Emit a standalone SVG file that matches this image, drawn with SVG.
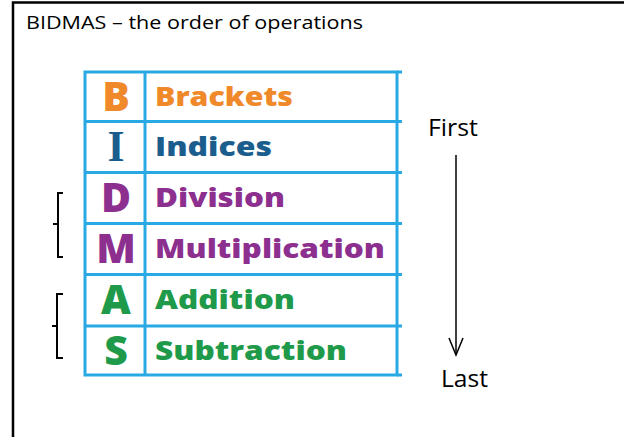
<svg xmlns="http://www.w3.org/2000/svg" width="624" height="437" viewBox="0 0 624 437">
<style>
.title{font-family:"Open Sans","Liberation Sans",sans-serif;font-size:19px;fill:#000}
.lbl{font-family:"Open Sans","Liberation Sans",sans-serif;font-size:23px;fill:#000}
.let{font-family:"Open Sans","Noto Sans",sans-serif;font-weight:800;font-size:41px;text-anchor:middle}
.word{font-family:"Open Sans","Noto Sans",sans-serif;font-weight:800;font-size:27px}
.grid{stroke:#29a9e4;stroke-width:3;fill:none}
.br{stroke:#000;stroke-width:2;fill:none}
.o{fill:#f0892a}.b{fill:#1b5e8e}.p{fill:#8c2f8e}.g{fill:#1f9a4a}
</style>
<rect width="624" height="437" fill="#fff"/>
<path d="M13,437 V2.5 H624" stroke="#000" stroke-width="2.5" fill="none"/>
<text class="title" x="26" y="29" textLength="337" lengthAdjust="spacingAndGlyphs">BIDMAS – the order of operations</text>
<g id="table">
<rect class="grid" x="85" y="72" width="312" height="303"/>
<line class="grid" x1="145" y1="72" x2="145" y2="375"/>
<path class="grid" d="M85,121.5 H402 M85,172.5 H402 M85,223.5 H402 M85,274.5 H402 M85,326 H402 M397,72 H402 M397,375 H402"/>
</g>
<g id="row-b"><text class="let o" x="116" y="111">B</text><text class="word o" x="155" y="106" textLength="138" lengthAdjust="spacingAndGlyphs">Brackets</text></g>
<g id="row-i"><text class="let b" x="116" y="161" style="font-family:'Liberation Serif',serif;font-weight:bold;font-size:44px">I</text><text class="word b" x="155" y="156" textLength="117" lengthAdjust="spacingAndGlyphs">Indices</text></g>
<g id="row-d"><text class="let p" x="116" y="212">D</text><text class="word p" x="155" y="207" textLength="130" lengthAdjust="spacingAndGlyphs">Division</text></g>
<g id="row-m"><text class="let p" x="116" y="263">M</text><text class="word p" x="155" y="258" textLength="230" lengthAdjust="spacingAndGlyphs">Multiplication</text></g>
<g id="row-a"><text class="let g" x="116" y="314">A</text><text class="word g" x="155" y="309" textLength="140" lengthAdjust="spacingAndGlyphs">Addition</text></g>
<g id="row-s"><text class="let g" x="116" y="365">S</text><text class="word g" x="155" y="360" textLength="192" lengthAdjust="spacingAndGlyphs">Subtraction</text></g>
<g id="brackets">
<path class="br" d="M63,193 H58 V224 H53 M58,224 V257 H63"/>
<path class="br" d="M63,294 H57 V326 H52 M57,326 V358 H63"/>
</g>
<g id="first"><text class="lbl" x="428" y="136" textLength="50" lengthAdjust="spacingAndGlyphs">First</text></g>
<g id="last"><text class="lbl" x="441" y="387" textLength="47" lengthAdjust="spacingAndGlyphs">Last</text></g>
<g id="connectors">
<line x1="456" y1="155" x2="456" y2="355" stroke="#000" stroke-width="1.5"/>
<path d="M449,338 L456,355 L463,338" stroke="#000" stroke-width="1.5" fill="none"/>
</g>
</svg>
